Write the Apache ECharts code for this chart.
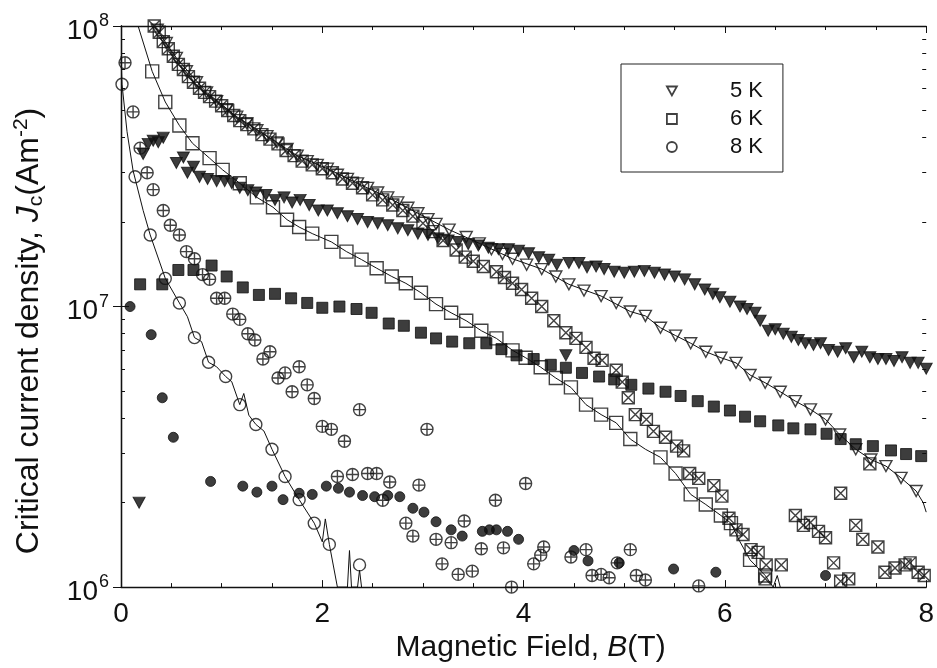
<!DOCTYPE html>
<html>
<head>
<meta charset="utf-8">
<script src="https://cdn.jsdelivr.net/npm/echarts@6/dist/echarts.min.js"></script>
<style>
  html, body { margin: 0; padding: 0; background: #fff; }
  #chart { width: 937px; height: 668px; }
</style>
</head>
<body>
<div id="chart"></div>
<script>
// Jc(B) at 5 K, 6 K and 8 K -- [B (T), Jc (A/m2)]

// 5 K
const filled5K = [
  [0.18, 2.0e6],
  [0.22, 3.5e7], [0.27, 3.8e7], [0.32, 3.9e7], [0.37, 3.85e7], [0.42, 4.0e7],
  [0.55, 3.25e7], [0.62, 3.4e7], [0.66, 3.0e7], [0.72, 3.15e7], [0.78, 2.9e7], [0.86, 2.85e7],
  [0.95, 2.8e7], [1.03, 2.8e7], [1.1, 2.75e7], [1.18, 2.65e7], [1.26, 2.6e7], [1.34, 2.55e7],
  [1.44, 2.5e7], [1.53, 2.4e7], [1.62, 2.45e7], [1.7, 2.35e7], [1.78, 2.4e7], [1.87, 2.3e7],
  [1.96, 2.2e7], [2.05, 2.2e7], [2.15, 2.15e7], [2.25, 2.1e7], [2.35, 2.05e7], [2.45, 2.0e7],
  [2.55, 1.98e7], [2.65, 1.95e7], [2.75, 1.9e7], [2.85, 1.87e7], [2.95, 1.82e7], [3.05, 1.8e7],
  [3.15, 1.75e7], [3.25, 1.72e7], [3.35, 1.7e7], [3.45, 1.67e7], [3.55, 1.65e7], [3.65, 1.62e7],
  [3.75, 1.6e7], [3.85, 1.6e7], [3.95, 1.58e7], [4.05, 1.55e7], [4.15, 1.5e7], [4.25, 1.47e7],
  [4.33, 1.41e7], [4.42, 6.7e6], [4.45, 1.43e7], [4.55, 1.43e7], [4.63, 1.38e7], [4.72, 1.39e7],
  [4.8, 1.36e7], [4.9, 1.33e7], [5.0, 1.32e7], [5.1, 1.33e7], [5.2, 1.34e7], [5.3, 1.32e7],
  [5.4, 1.3e7], [5.5, 1.28e7], [5.6, 1.25e7], [5.7, 1.2e7], [5.8, 1.15e7], [5.88, 1.11e7],
  [5.95, 1.08e7], [6.05, 1.04e7], [6.15, 1.0e7], [6.22, 9.8e6], [6.3, 9.5e6], [6.35, 8.9e6],
  [6.43, 8.2e6], [6.5, 8.3e6], [6.58, 8.0e6], [6.66, 7.8e6], [6.73, 7.6e6], [6.8, 7.4e6],
  [6.88, 7.3e6], [6.95, 7.4e6], [7.03, 7.0e6], [7.12, 6.9e6], [7.2, 7.1e6], [7.28, 6.6e6],
  [7.36, 6.9e6], [7.44, 6.6e6], [7.52, 6.5e6], [7.6, 6.5e6], [7.68, 6.4e6], [7.76, 6.6e6],
  [7.84, 6.3e6], [7.92, 6.3e6], [8.0, 6.0e6]
];
const open5K = [
  [0.36, 9.7e7], [0.45, 8.7e7], [0.55, 7.7e7], [0.65, 6.9e7], [0.75, 6.3e7], [0.85, 5.8e7],
  [0.95, 5.4e7], [1.05, 5.05e7], [1.15, 4.75e7], [1.25, 4.5e7], [1.35, 4.25e7], [1.45, 4.05e7],
  [1.55, 3.85e7], [1.65, 3.65e7], [1.75, 3.45e7], [1.85, 3.3e7], [1.95, 3.2e7], [2.05, 3.1e7],
  [2.15, 2.95e7], [2.25, 2.85e7], [2.35, 2.75e7], [2.45, 2.65e7], [2.55, 2.55e7], [2.65, 2.45e7],
  [2.75, 2.35e7], [2.85, 2.25e7], [2.95, 2.15e7], [3.05, 2.05e7], [3.13, 1.97e7], [3.26, 1.88e7],
  [3.43, 1.77e7], [3.56, 1.68e7], [3.68, 1.6e7], [3.79, 1.54e7], [3.89, 1.48e7], [4.03, 1.41e7],
  [4.18, 1.36e7], [4.32, 1.28e7], [4.45, 1.2e7], [4.6, 1.14e7], [4.77, 1.09e7], [4.92, 1.03e7],
  [5.06, 9.6e6], [5.21, 9.26e6], [5.36, 8.4e6], [5.51, 7.88e6], [5.66, 7.4e6], [5.81, 6.9e6],
  [5.96, 6.57e6], [6.11, 6.3e6], [6.25, 5.7e6], [6.4, 5.35e6], [6.55, 4.97e6], [6.7, 4.6e6],
  [6.85, 4.3e6], [7.0, 3.96e6], [7.14, 3.5e6], [7.3, 3.1e6], [7.45, 2.85e6], [7.6, 2.7e6],
  [7.75, 2.45e6], [7.9, 2.2e6]
];
const fit5K = [
  [0.33, 1.0e8], [0.55, 7.7e7], [0.85, 5.8e7], [1.15, 4.75e7], [1.45, 4.05e7], [1.75, 3.45e7],
  [2.05, 3.1e7], [2.35, 2.75e7], [2.65, 2.45e7], [2.95, 2.15e7], [3.26, 1.88e7], [3.56, 1.68e7],
  [3.89, 1.48e7], [4.18, 1.36e7], [4.45, 1.2e7], [4.77, 1.09e7], [5.06, 9.6e6], [5.21, 9.26e6],
  [5.36, 8.4e6], [5.51, 7.88e6], [5.66, 7.4e6], [5.81, 6.9e6], [5.96, 6.57e6], [6.11, 6.3e6],
  [6.25, 5.7e6], [6.4, 5.35e6], [6.55, 4.97e6], [6.7, 4.6e6], [6.85, 4.3e6], [7.0, 3.96e6],
  [7.14, 3.5e6], [7.3, 3.1e6], [7.45, 2.85e6], [7.6, 2.7e6], [7.75, 2.45e6], [7.9, 2.2e6],
  [7.97, 2.0e6], [8.0, 1.85e6]
];

// 6 K
const filled6K = [
  [0.19, 1.2e7], [0.41, 1.2e7], [0.57, 1.35e7], [0.72, 1.35e7], [0.9, 1.4e7], [1.05, 1.28e7],
  [1.21, 1.17e7], [1.37, 1.1e7], [1.53, 1.11e7], [1.69, 1.07e7], [1.85, 1.03e7], [2.0, 9.9e6],
  [2.17, 1.0e7], [2.34, 9.8e6], [2.49, 9.5e6], [2.66, 8.7e6], [2.81, 8.54e6], [2.98, 8.07e6],
  [3.13, 7.7e6], [3.29, 7.5e6], [3.46, 7.4e6], [3.63, 7.4e6], [3.78, 7.05e6], [3.93, 6.7e6],
  [4.1, 6.5e6], [4.27, 6.2e6], [4.42, 6.05e6], [4.58, 5.8e6], [4.75, 5.63e6], [4.9, 5.5e6],
  [5.07, 5.26e6], [5.24, 5.1e6], [5.41, 4.97e6], [5.56, 4.8e6], [5.73, 4.6e6], [5.89, 4.4e6],
  [6.05, 4.26e6], [6.2, 4.05e6], [6.35, 3.9e6], [6.53, 3.77e6], [6.68, 3.68e6], [6.85, 3.65e6],
  [7.01, 3.52e6], [7.15, 3.37e6], [7.3, 3.23e6], [7.47, 3.18e6], [7.65, 3.07e6], [7.8, 2.98e6],
  [7.95, 2.93e6]
];
const open6K = [
  [0.31, 6.89e7], [0.44, 5.36e7], [0.58, 4.42e7], [0.71, 3.82e7], [0.88, 3.38e7], [1.01, 3.07e7],
  [1.18, 2.75e7], [1.35, 2.45e7], [1.51, 2.26e7], [1.65, 2.04e7], [1.77, 1.92e7], [1.9, 1.82e7],
  [2.09, 1.7e7], [2.24, 1.57e7], [2.39, 1.47e7], [2.54, 1.37e7], [2.69, 1.28e7], [2.83, 1.21e7],
  [2.98, 1.12e7], [3.13, 1.02e7], [3.28, 9.5e6], [3.43, 8.9e6], [3.58, 8.2e6], [3.73, 7.7e6],
  [3.89, 6.98e6], [4.02, 6.57e6], [4.17, 6.08e6], [4.32, 5.56e6], [4.47, 5.15e6], [4.62, 4.47e6],
  [4.77, 4.12e6], [4.92, 3.85e6], [5.06, 3.37e6], [5.36, 2.9e6], [5.51, 2.54e6], [5.66, 2.14e6],
  [5.81, 1.97e6], [5.96, 1.8e6], [6.06, 1.69e6], [6.25, 1.25e6], [6.4, 1.1e6]
];
const fit6K = [
  [0.17, 1.0e8], [0.31, 6.89e7], [0.44, 5.36e7], [0.58, 4.42e7], [0.71, 3.82e7], [0.88, 3.38e7],
  [1.01, 3.07e7], [1.18, 2.75e7], [1.35, 2.45e7], [1.51, 2.26e7], [1.65, 2.04e7], [1.77, 1.92e7],
  [1.9, 1.82e7], [2.09, 1.7e7], [2.24, 1.57e7], [2.39, 1.47e7], [2.54, 1.37e7], [2.69, 1.28e7],
  [2.83, 1.21e7], [2.98, 1.12e7], [3.13, 1.02e7], [3.28, 9.5e6], [3.43, 8.9e6], [3.58, 8.2e6],
  [3.73, 7.7e6], [3.89, 6.98e6], [4.02, 6.57e6], [4.17, 6.08e6], [4.32, 5.56e6], [4.47, 5.15e6],
  [4.62, 4.47e6], [4.77, 4.12e6], [4.92, 3.85e6], [5.06, 3.37e6], [5.21, 3.1e6], [5.36, 2.9e6],
  [5.51, 2.54e6], [5.66, 2.14e6], [5.81, 1.97e6], [5.96, 1.8e6], [6.06, 1.69e6], [6.15, 1.45e6],
  [6.25, 1.25e6], [6.4, 1.1e6], [6.48, 1.0e6], [6.52, 1.1e6], [6.55, 1.0e6]
];
const crossed6K = [
  [0.33, 1.0e8], [0.38, 9.5e7], [0.42, 8.8e7], [0.47, 8.3e7], [0.52, 7.8e7], [0.57, 7.3e7],
  [0.62, 7.0e7], [0.67, 6.6e7], [0.72, 6.3e7], [0.78, 6.0e7], [0.83, 5.8e7], [0.88, 5.6e7],
  [0.94, 5.4e7], [1.0, 5.2e7], [1.06, 5.0e7], [1.12, 4.8e7], [1.18, 4.6e7], [1.25, 4.45e7],
  [1.32, 4.3e7], [1.4, 4.1e7], [1.48, 3.95e7], [1.56, 3.8e7], [1.64, 3.6e7], [1.72, 3.45e7],
  [1.8, 3.3e7], [1.9, 3.2e7], [2.0, 3.1e7], [2.1, 3.0e7], [2.2, 2.85e7], [2.3, 2.75e7],
  [2.4, 2.65e7], [2.5, 2.5e7], [2.6, 2.4e7], [2.7, 2.3e7], [2.8, 2.2e7], [2.9, 2.1e7],
  [3.0, 1.98e7], [3.1, 1.85e7], [3.2, 1.72e7], [3.33, 1.59e7], [3.42, 1.5e7], [3.5, 1.45e7],
  [3.6, 1.39e7], [3.73, 1.33e7], [3.81, 1.27e7], [3.89, 1.21e7], [3.98, 1.15e7], [4.08, 1.07e7],
  [4.18, 1.0e7], [4.3, 8.9e6], [4.42, 8.07e6], [4.52, 7.7e6], [4.62, 7.15e6], [4.7, 6.54e6],
  [4.78, 6.43e6], [4.92, 5.93e6], [4.98, 5.38e6], [5.04, 4.73e6], [5.11, 4.12e6], [5.22, 3.96e6],
  [5.29, 3.59e6], [5.41, 3.42e6], [5.52, 3.18e6], [5.59, 3.06e6], [5.65, 2.54e6], [5.74, 2.44e6],
  [5.89, 2.3e6], [5.97, 2.11e6], [6.04, 1.76e6], [6.11, 1.6e6], [6.18, 1.54e6], [6.26, 1.36e6],
  [6.33, 1.33e6], [6.4, 1.07e6], [6.41, 1.2e6], [6.56, 1.2e6],
  [6.7, 1.8e6], [6.78, 1.66e6], [6.85, 1.7e6], [6.93, 1.58e6], [7.0, 1.5e6], [7.08, 1.22e6],
  [7.15, 2.16e6], [7.15, 1.05e6], [7.23, 1.07e6], [7.3, 1.66e6], [7.37, 1.48e6], [7.44, 2.75e6],
  [7.52, 1.39e6], [7.59, 1.13e6], [7.69, 1.17e6], [7.79, 1.2e6], [7.84, 1.22e6], [7.92, 1.13e6],
  [7.98, 1.1e6]
];

// 8 K
const filled8K = [
  [0.09, 1.0e7], [0.3, 7.94e6], [0.41, 4.73e6], [0.52, 3.42e6], [0.89, 2.38e6], [1.21, 2.29e6],
  [1.35, 2.18e6], [1.5, 2.29e6], [1.61, 2.05e6], [1.77, 2.16e6], [1.9, 2.14e6], [2.04, 2.29e6],
  [2.16, 2.25e6], [2.27, 2.18e6], [2.4, 2.12e6], [2.52, 2.1e6], [2.65, 2.12e6], [2.77, 2.1e6],
  [2.9, 1.91e6], [3.01, 1.85e6], [3.13, 1.71e6], [3.28, 1.6e6], [3.39, 1.52e6], [3.59, 1.58e6],
  [3.66, 1.6e6], [3.73, 1.6e6], [3.84, 1.58e6], [3.95, 1.48e6], [4.5, 1.35e6], [4.64, 1.24e6],
  [4.95, 1.22e6], [5.49, 1.16e6], [5.91, 1.13e6], [7.0, 1.1e6]
];
const open8K = [
  [0.01, 6.2e7], [0.14, 2.9e7], [0.29, 1.8e7], [0.44, 1.26e7], [0.58, 1.03e7], [0.73, 7.75e6],
  [0.87, 6.33e6], [1.04, 5.63e6], [1.18, 4.47e6], [1.34, 3.8e6], [1.5, 3.1e6], [1.63, 2.48e6],
  [1.77, 2.05e6], [1.92, 1.69e6], [2.07, 1.42e6], [2.37, 1.2e6]
];
const fit8K = [
  [0.0, 7.8e7], [0.01, 6.2e7], [0.06, 4.2e7], [0.12, 3.05e7], [0.22, 2.2e7], [0.29, 1.8e7],
  [0.44, 1.26e7], [0.58, 1.03e7], [0.66, 9.2e6], [0.73, 7.75e6], [0.8, 7.5e6], [0.87, 6.33e6],
  [0.95, 6.1e6], [1.04, 5.63e6], [1.1, 5.4e6], [1.18, 4.47e6], [1.22, 4.9e6], [1.27, 4.1e6],
  [1.34, 3.8e6], [1.42, 3.6e6], [1.5, 3.1e6], [1.63, 2.48e6], [1.77, 2.05e6], [1.92, 1.69e6],
  [2.0, 1.45e6], [2.03, 1.75e6], [2.07, 1.42e6], [2.15, 1.0e6], [2.25, 1.0e6], [2.27, 1.35e6],
  [2.29, 1.0e6], [2.35, 1.0e6], [2.37, 1.15e6], [2.39, 1.0e6]
];
const crossed8K = [
  [0.04, 7.4e7], [0.12, 4.94e7], [0.19, 3.67e7], [0.26, 3.0e7], [0.32, 2.61e7], [0.42, 2.2e7],
  [0.49, 1.95e7], [0.58, 1.8e7], [0.65, 1.57e7], [0.73, 1.48e7], [0.81, 1.3e7], [0.88, 1.25e7],
  [0.95, 1.07e7], [1.03, 1.07e7], [1.11, 9.4e6], [1.18, 9.0e6], [1.26, 8.0e6], [1.33, 7.6e6],
  [1.41, 6.5e6], [1.48, 6.9e6], [1.56, 5.56e6], [1.63, 5.8e6], [1.7, 4.97e6], [1.77, 6.1e6],
  [1.85, 5.26e6], [1.92, 4.7e6], [2.0, 3.74e6], [2.09, 3.65e6], [2.15, 2.48e6], [2.22, 3.31e6],
  [2.3, 2.52e6], [2.37, 4.29e6], [2.45, 2.54e6], [2.54, 2.54e6], [2.6, 2.04e6], [2.67, 2.37e6],
  [2.83, 1.69e6], [2.9, 1.52e6], [2.96, 2.31e6], [3.04, 3.65e6], [3.13, 1.48e6], [3.19, 1.21e6],
  [3.28, 1.44e6], [3.35, 1.11e6], [3.41, 1.72e6], [3.49, 1.14e6], [3.58, 1.37e6], [3.72, 2.04e6],
  [3.8, 1.38e6], [3.88, 1.0e6], [4.02, 2.34e6], [4.1, 1.21e6], [4.17, 1.3e6], [4.2, 1.39e6],
  [4.47, 1.28e6], [4.62, 1.36e6], [4.68, 1.1e6], [4.77, 1.11e6], [4.85, 1.08e6], [4.93, 1.22e6],
  [5.06, 1.36e6], [5.12, 1.1e6], [5.21, 1.06e6], [5.74, 1.01e6]
];

// axis ticks
const xTickValues = [0, 2, 4, 6, 8];
const yDecades = [6, 7, 8];
const yMinorMantissas = [2, 3, 4, 5, 6, 7, 8, 9];

const FONT = '"Liberation Sans", Arial, sans-serif';
const INK = '#111';

const triDown = 'path://M0,0 L10,0 L5,9 Z';
const crossSquare = 'path://M0,0 L10,0 L10,10 L0,10 Z M0,0 L10,10 M10,0 L0,10';
const crossCircle = 'path://M10,5 A5,5 0 1,1 0,5 A5,5 0 1,1 10,5 Z M5,0 L5,10 M0,5 L10,5';

const minorLogTicks = [];
yDecades.slice(0, -1).forEach(d => {
  yMinorMantissas.forEach(m => minorLogTicks.push(d + Math.log10(m)));
});

const chart = echarts.init(document.getElementById('chart'));

const openStyle = { color: 'rgba(255,255,255,0)', borderColor: INK, borderWidth: 1.4 };
const filledStyle = { color: '#0d0d0d', borderColor: INK, borderWidth: 1 };
const legendStyle = { color: 'rgba(255,255,255,0)', borderColor: INK, borderWidth: 1.8 };

function scatter(name, data, symbol, size, style) {
  return {
    name: name,
    type: 'scatter',
    data: data,
    symbol: symbol,
    symbolSize: size,
    itemStyle: style,
    z: 3,
    silent: true
  };
}
function fitLine(data) {
  return {
    type: 'line',
    data: data,
    showSymbol: false,
    symbol: 'none',
    lineStyle: { color: INK, width: 1 },
    z: 2,
    silent: true
  };
}

function minorAxis(position) {
  return {
    type: 'value', min: yDecades[0], max: yDecades[yDecades.length - 1],
    position: position,
    axisLine: { show: false },
    axisLabel: { show: false },
    splitLine: { show: false },
    axisTick: { show: true, inside: true, length: 4, customValues: minorLogTicks,
      lineStyle: { color: INK, width: 1 } }
  };
}

const option = {
  animation: false,
  backgroundColor: '#fff',
  grid: { left: 121, right: 9, top: 26, bottom: 73 },
  xAxis: [
    {
      type: 'value', min: 0, max: 8, interval: 2,
      name: 'Magnetic Field, {i|B}(T)',
      nameLocation: 'middle', nameGap: 44,
      nameTextStyle: {
        fontSize: 30, fontFamily: FONT, color: INK, padding: [0, 0, 0, 14],
        rich: { i: { fontSize: 30, fontStyle: 'italic', fontFamily: FONT, color: INK } }
      },
      axisLine: { show: true, lineStyle: { color: INK, width: 1.3 } },
      axisTick: { inside: true, length: 7, lineStyle: { color: INK } },
      minorTick: { show: true, splitNumber: 4, length: 4, lineStyle: { color: INK } },
      axisLabel: {
        fontSize: 28, fontFamily: FONT, color: INK, margin: 13,
        customValues: xTickValues
      },
      splitLine: { show: false }
    },
    {
      type: 'value', min: 0, max: 8, interval: 2, position: 'top',
      axisLine: { show: true, lineStyle: { color: INK, width: 1.3 } },
      axisTick: { inside: true, length: 7, lineStyle: { color: INK } },
      minorTick: { show: true, splitNumber: 4, length: 4, lineStyle: { color: INK } },
      axisLabel: { show: false },
      splitLine: { show: false }
    }
  ],
  yAxis: [
    {
      type: 'log', logBase: 10, min: 1e6, max: 1e8, position: 'left',
      axisLine: { show: true, lineStyle: { color: INK, width: 1.3 } },
      axisTick: { inside: true, length: 8, lineStyle: { color: INK } },
      axisLabel: {
        margin: 12,
        formatter: v => '{b|10}{e|' + Math.round(Math.log10(v)) + '}',
        rich: {
          b: { fontSize: 28, fontFamily: FONT, color: INK, padding: [10, 0, 0, 0] },
          e: { fontSize: 18, fontFamily: FONT, color: INK, padding: [0, 0, 10, 1] }
        }
      },
      splitLine: { show: false }
    },
    {
      type: 'log', logBase: 10, min: 1e6, max: 1e8, position: 'right',
      axisLine: { show: true, lineStyle: { color: INK, width: 1.3 } },
      axisTick: { inside: true, length: 8, lineStyle: { color: INK } },
      axisLabel: { show: false },
      splitLine: { show: false }
    },
    minorAxis('left'),
    minorAxis('right')
  ],
  graphic: [{
    type: 'text',
    x: 29, y: 331,
    rotation: Math.PI / 2,
    style: {
      text: '{n|Critical current density, }{i|J}{s|c}{n|(Am}{p|-2}{n|)}',
      align: 'center', verticalAlign: 'middle',
      rich: {
        n: { fontSize: 32, fontFamily: FONT, fill: INK },
        i: { fontSize: 32, fontFamily: FONT, fontStyle: 'italic', fill: INK },
        s: { fontSize: 21, fontFamily: FONT, fill: INK, padding: [15, 0, 0, 0] },
        p: { fontSize: 21, fontFamily: FONT, fill: INK, padding: [0, 0, 15, 0] }
      }
    }
  }],
  legend: {
    orient: 'vertical', left: 621, top: 64,
    padding: [16, 20, 14, 45],
    borderColor: '#222', borderWidth: 1,
    itemGap: 6, itemWidth: 10, itemHeight: 10,
    selectedMode: false,
    formatter: name => '{t|' + name + '}',
    textStyle: {
      rich: { t: { fontSize: 22, fontFamily: FONT, color: INK, padding: [0, 0, 0, 48], lineHeight: 16 } }
    },
    data: [
      { name: '5 K', icon: triDown, itemStyle: legendStyle },
      { name: '6 K', icon: 'rect', itemStyle: legendStyle },
      { name: '8 K', icon: 'circle', itemStyle: legendStyle }
    ]
  },
  series: [
    fitLine(fit5K),
    fitLine(fit6K),
    fitLine(fit8K),
    scatter('5 K', open5K, triDown, [12, 11], openStyle),
    scatter('5 K filled', filled5K, triDown, [12, 11], filledStyle),
    scatter('6 K', open6K, 'rect', 13, openStyle),
    scatter('6 K filled', filled6K, 'rect', 11, filledStyle),
    scatter('6 K crossed', crossed6K, crossSquare, 12, openStyle),
    scatter('8 K', open8K, 'circle', 12, openStyle),
    scatter('8 K filled', filled8K, 'circle', 10, filledStyle),
    scatter('8 K crossed', crossed8K, crossCircle, 12, openStyle)
  ]
};

chart.setOption(option);
</script>
</body>
</html>
